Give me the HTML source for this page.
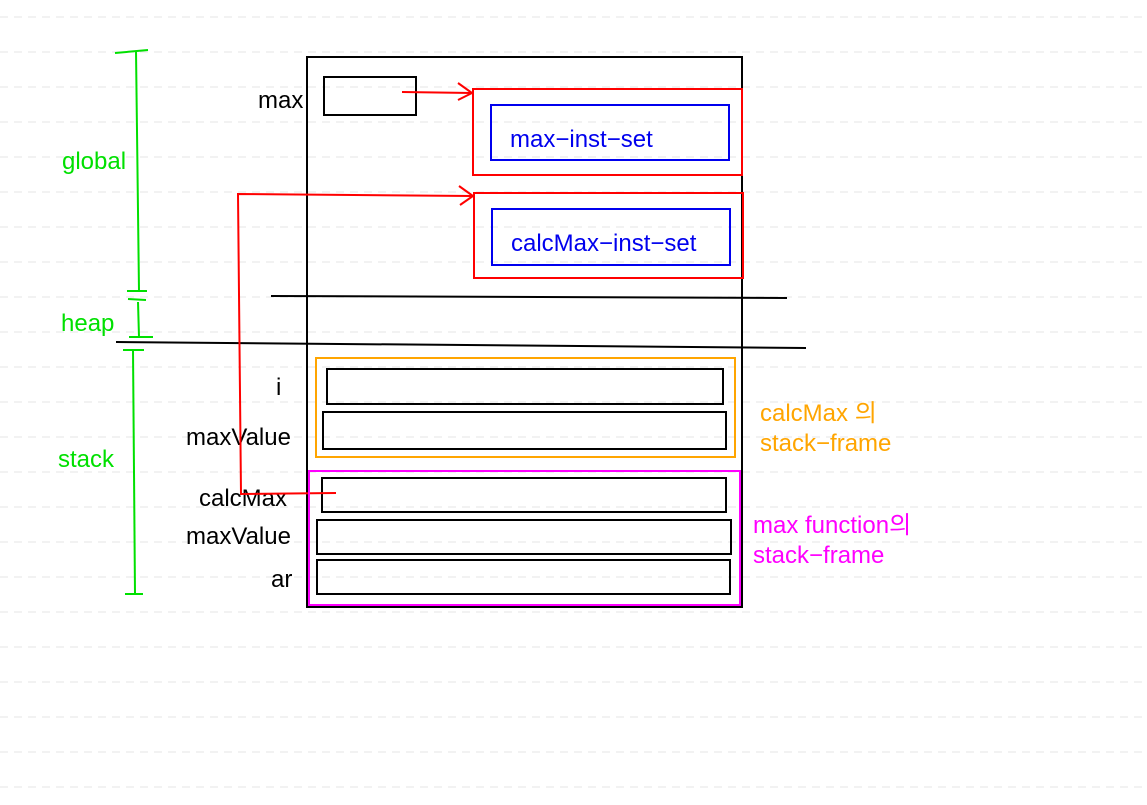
<!DOCTYPE html>
<html><head><meta charset="utf-8"><style>
html,body{margin:0;padding:0;background:#fff;}
svg{display:block;}
text{font-family:"Liberation Sans","Noto Sans CJK KR",sans-serif;font-size:24px;}
</style></head><body>
<svg width="1147" height="805" xmlns="http://www.w3.org/2000/svg">
<g stroke="#e4e4e4" stroke-width="1" stroke-dasharray="8,6">
<line x1="0" y1="17" x2="1147" y2="17"/><line x1="0" y1="52" x2="1147" y2="52"/><line x1="0" y1="87" x2="1147" y2="87"/><line x1="0" y1="122" x2="1147" y2="122"/><line x1="0" y1="157" x2="1147" y2="157"/><line x1="0" y1="192" x2="1147" y2="192"/><line x1="0" y1="227" x2="1147" y2="227"/><line x1="0" y1="262" x2="1147" y2="262"/><line x1="0" y1="297" x2="1147" y2="297"/><line x1="0" y1="332" x2="1147" y2="332"/><line x1="0" y1="367" x2="1147" y2="367"/><line x1="0" y1="402" x2="1147" y2="402"/><line x1="0" y1="437" x2="1147" y2="437"/><line x1="0" y1="472" x2="1147" y2="472"/><line x1="0" y1="507" x2="1147" y2="507"/><line x1="0" y1="542" x2="1147" y2="542"/><line x1="0" y1="577" x2="1147" y2="577"/><line x1="0" y1="612" x2="1147" y2="612"/><line x1="0" y1="647" x2="1147" y2="647"/><line x1="0" y1="682" x2="1147" y2="682"/><line x1="0" y1="717" x2="1147" y2="717"/><line x1="0" y1="752" x2="1147" y2="752"/><line x1="0" y1="787" x2="1147" y2="787"/>
</g>
<!-- green -->
<g stroke="#00e000" stroke-width="2" fill="none">
<line x1="115" y1="53" x2="148" y2="50"/><line x1="136" y1="51" x2="139" y2="291"/>
<line x1="127" y1="291" x2="147" y2="291"/><line x1="128" y1="299" x2="146" y2="300"/>
<line x1="138" y1="302" x2="139" y2="337"/><line x1="129" y1="337" x2="153" y2="337"/>
<line x1="123" y1="350" x2="144" y2="350"/><line x1="133" y1="350" x2="135" y2="594"/><line x1="125" y1="594" x2="143" y2="594"/>
</g>
<g fill="#00e000"><text x="62" y="169">global</text><text x="61" y="331">heap</text><text x="58" y="467">stack</text></g>
<!-- main -->
<g stroke="#000" stroke-width="2" fill="none">
<rect x="307" y="57" width="435" height="550"/>
<rect x="324" y="77" width="92" height="38"/>
<line x1="271" y1="296" x2="787" y2="298"/>
<line x1="116" y1="342" x2="806" y2="348"/>
<rect x="327" y="369" width="396" height="35"/>
<rect x="323" y="412" width="403" height="37"/>
<rect x="322" y="478" width="404" height="34"/>
<rect x="317" y="520" width="414" height="34"/>
<rect x="317" y="560" width="413" height="34"/>
</g>
<g fill="#000"><text x="258" y="108">max</text><text x="276" y="395">i</text><text x="186" y="445">maxValue</text><text x="199" y="506">calcMax</text><text x="186" y="544">maxValue</text><text x="271" y="587">ar</text></g>
<!-- red -->
<g stroke="#ff0000" stroke-width="2" fill="none">
<rect x="473" y="89" width="269" height="86"/>
<rect x="474" y="193" width="269" height="85"/>
<line x1="402" y1="92" x2="472" y2="93"/><polyline points="458,83 472,93 458,100"/>
<polyline points="336,493 241,494 238,194 472,196"/><polyline points="459,186 473,196 460,205"/>
</g>
<g stroke="#0000ee" stroke-width="2" fill="none">
<rect x="491" y="105" width="238" height="55"/><rect x="492" y="209" width="238" height="56"/>
</g>
<g fill="#0000ee"><text x="510" y="147">max−inst−set</text><text x="511" y="251">calcMax−inst−set</text></g>
<rect x="316" y="358" width="419" height="99" stroke="#ffa500" stroke-width="2" fill="none"/>
<g fill="#ffa500"><text x="760" y="421">calcMax 의</text><text x="760" y="451">stack−frame</text></g>
<rect x="309" y="471" width="431" height="134" stroke="#ff00ff" stroke-width="2" fill="none"/>
<g fill="#ff00ff"><text x="753" y="533">max function의</text><text x="753" y="563">stack−frame</text></g>
</svg>
</body></html>
